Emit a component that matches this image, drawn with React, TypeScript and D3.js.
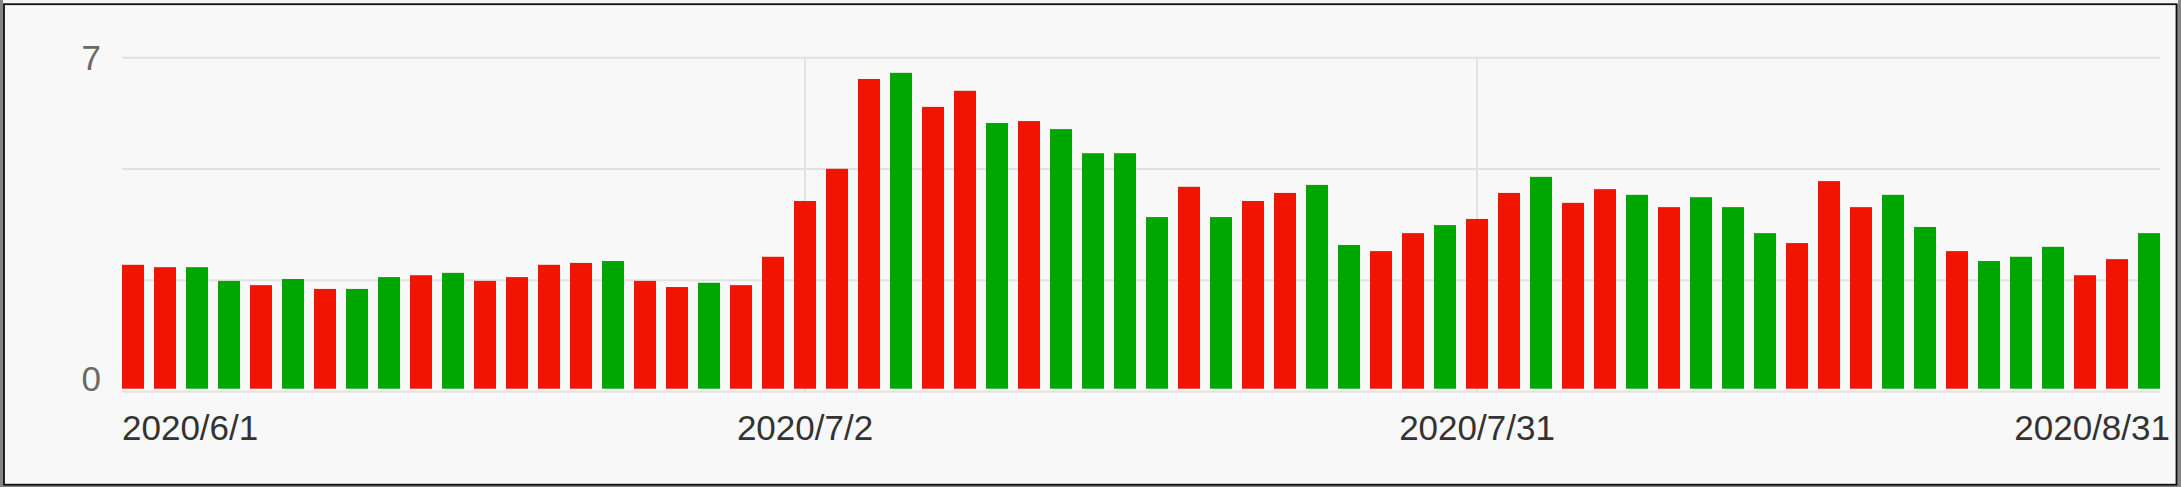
import React from "react";
import * as d3 from "d3";

const dates: string[] = [
  "2020/6/1","2020/6/2","2020/6/3","2020/6/4","2020/6/5","2020/6/8","2020/6/9","2020/6/10","2020/6/11","2020/6/12",
  "2020/6/15","2020/6/16","2020/6/17","2020/6/18","2020/6/19","2020/6/22","2020/6/23","2020/6/24","2020/6/29","2020/6/30",
  "2020/7/1","2020/7/2","2020/7/3","2020/7/6","2020/7/7","2020/7/8","2020/7/9","2020/7/10","2020/7/13","2020/7/14",
  "2020/7/15","2020/7/16","2020/7/17","2020/7/20","2020/7/21","2020/7/22","2020/7/23","2020/7/24","2020/7/27","2020/7/28",
  "2020/7/29","2020/7/30","2020/7/31","2020/8/3","2020/8/4","2020/8/5","2020/8/6","2020/8/7","2020/8/10","2020/8/11",
  "2020/8/12","2020/8/13","2020/8/14","2020/8/17","2020/8/18","2020/8/19","2020/8/20","2020/8/21","2020/8/24","2020/8/25",
  "2020/8/26","2020/8/27","2020/8/28","2020/8/31",
];

const values: number[] = [
  2.62, 2.57, 2.57, 2.28, 2.19, 2.32, 2.11, 2.11, 2.36, 2.40,
  2.45, 2.28, 2.36, 2.62, 2.66, 2.70, 2.28, 2.15, 2.24, 2.19,
  2.79, 3.97, 4.65, 6.55, 6.68, 5.96, 6.30, 5.62, 5.66, 5.49,
  4.98, 4.98, 3.63, 4.27, 3.63, 3.97, 4.14, 4.31, 3.04, 2.91,
  3.29, 3.46, 3.59, 4.14, 4.48, 3.93, 4.22, 4.10, 3.84, 4.05,
  3.84, 3.29, 3.08, 4.39, 3.84, 4.10, 3.42, 2.91, 2.70, 2.79,
  3.00, 2.40, 2.74, 3.29,
];

// "u" = red, "d" = green
const moves: string[] = [
  "u","u","d","d","u","d","u","d","d","u",
  "d","u","u","u","u","d","u","u","d","u",
  "u","u","u","u","d","u","u","d","u","d",
  "d","d","d","u","d","u","u","d","d","u",
  "u","d","u","u","d","u","u","d","u","d",
  "d","d","u","u","u","d","d","u","d","d",
  "d","u","u","d",
];

const xTickLabels: string[] = ["2020/6/1", "2020/7/2", "2020/7/31", "2020/8/31"];
const yTickLabels: number[] = [0, 7];

const W = 2181;
const H = 487;
const yMin = -0.0634;
const yMax = 7;
const FONT = "'Liberation Sans', Arial, Helvetica, sans-serif";
const RED = "#f11500";
const GREEN = "#00a600";
const GRID = "#e2e2e2";

export default function App() {
  const x = d3
    .scaleBand<string>()
    .domain(dates)
    .range([117, 2165])
    .paddingInner(0.3125)
    .paddingOuter(0.15625);
  const y = d3.scaleLinear().domain([yMin, yMax]).range([391.7, 57.7]);

  const x0 = x(dates[0]) as number;
  const x1 = (x(dates[dates.length - 1]) as number) + x.bandwidth();
  const gridVals = d3.range(4).map((i) => yMin + (i * (yMax - yMin)) / 3);
  const innerTicks = xTickLabels.slice(1, -1);

  return (
    <div style={{ position: "absolute", left: 0, top: 0 }}>
      <svg width={W} height={H} style={{ display: "block" }}>
        <rect x={0} y={0} width={W} height={H} fill="#858585" />
        <rect x={3} y={0} width={W - 6} height={4} fill="#f4f4f4" />
        <rect x={4} y={4.2} width={2172.5} height={480.5} fill="#f8f8f8" stroke="#111" strokeWidth={1.8} />

        {gridVals.map((v, i) => (
          <line key={"g" + i} x1={x0} x2={x1} y1={y(v)} y2={y(v)} stroke={GRID} strokeWidth={2} />
        ))}
        {innerTicks.map((d) => {
          const cx = (x(d) as number) + x.bandwidth() / 2;
          return <line key={"v" + d} x1={cx} x2={cx} y1={y(yMax)} y2={y(yMin)} stroke={GRID} strokeWidth={2} />;
        })}

        {dates.map((d, i) => (
          <rect
            key={d}
            x={x(d)}
            y={y(values[i])}
            width={x.bandwidth()}
            height={y(0) - y(values[i])}
            fill={moves[i] === "u" ? RED : GREEN}
          />
        ))}

        {yTickLabels.map((v) => (
          <text
            key={"y" + v}
            x={101}
            y={v === 0 ? y(yMin) - 0.5 : y(v) + 12.5}
            textAnchor="end"
            fontFamily={FONT}
            fontSize={35}
            fill="#6a6a6a"
          >
            {v}
          </text>
        ))}

        {xTickLabels.map((d, i) => {
          const cx = (x(d) as number) + x.bandwidth() / 2;
          let anchor = "middle";
          let tx = cx;
          if (i === 0) {
            anchor = "start";
            tx = x0;
          } else if (i === xTickLabels.length - 1) {
            anchor = "end";
            tx = x1 + 10;
          }
          return (
            <text key={"x" + d} x={tx} y={440} textAnchor={anchor} fontFamily={FONT} fontSize={35} fill="#333">
              {d}
            </text>
          );
        })}
      </svg>
    </div>
  );
}
